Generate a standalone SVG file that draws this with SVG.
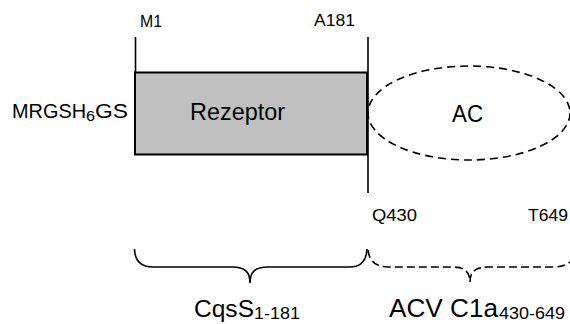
<svg xmlns="http://www.w3.org/2000/svg" width="570" height="324" viewBox="0 0 570 324">
<style>
text{font-family:"Liberation Sans",Arial,sans-serif;fill:#000}
.ln{stroke:#000;stroke-width:1.6;fill:none}
.dash{stroke:#000;stroke-width:1.6;fill:none;stroke-dasharray:8 5}
.lb{font-size:17px}
</style>
<rect width="570" height="324" fill="#fff"/>
<g id="connectors">
<line class="ln" x1="135.5" y1="37" x2="135.5" y2="72"/>
<line class="ln" x1="368" y1="37" x2="368" y2="193"/>
</g>
<g id="rezeptor">
<rect x="135" y="72.5" width="232" height="82" fill="#c0c0c0" stroke="#000" stroke-width="2"/>
<text x="190" y="120" font-size="23" textLength="95" lengthAdjust="spacingAndGlyphs">Rezeptor</text>
</g>
<g id="ac">
<ellipse class="dash" cx="469" cy="113" rx="101" ry="47"/>
<text x="452" y="122" font-size="23.5" textLength="31" lengthAdjust="spacingAndGlyphs">AC</text>
</g>
<g id="tag">
<text x="12" y="118" font-size="20" textLength="74" lengthAdjust="spacingAndGlyphs">MRGSH</text>
<text x="86" y="121" font-size="14" textLength="9" lengthAdjust="spacingAndGlyphs">6</text>
<text x="95" y="118" font-size="21" textLength="33" lengthAdjust="spacingAndGlyphs">GS</text>
</g>
<g id="labels">
<text class="lb" x="140" y="27" textLength="22" lengthAdjust="spacingAndGlyphs">M1</text>
<text class="lb" x="314" y="26" textLength="41" lengthAdjust="spacingAndGlyphs">A181</text>
<text class="lb" x="372" y="221" textLength="45" lengthAdjust="spacingAndGlyphs">Q430</text>
<text class="lb" x="528" y="221" textLength="40" lengthAdjust="spacingAndGlyphs">T649</text>
</g>
<g id="brace-cqss">
<path class="ln" d="M134.5,249 Q135,267 153,267 L232,267 C245,267 250,272 250,283 C250,272 255,267 268,267 L350,267 Q366,267 367,249"/>
<text x="194" y="317" font-size="24.5" textLength="60" lengthAdjust="spacingAndGlyphs">CqsS</text>
<text x="254" y="319" font-size="17" textLength="46" lengthAdjust="spacingAndGlyphs">1-181</text>
</g>
<g id="brace-acv">
<path class="ln" stroke-dasharray="8 4" d="M368,250 Q370,267 388,267 L452,267 C465,267 470,272 470,282 C470,272 475,267 488,267 L552,267 Q566,267 572,260"/>
<text x="389" y="317" font-size="25.5" textLength="109" lengthAdjust="spacingAndGlyphs">ACV C1a</text>
<text x="499" y="319" font-size="17" textLength="66" lengthAdjust="spacingAndGlyphs">430-649</text>
</g>
</svg>
